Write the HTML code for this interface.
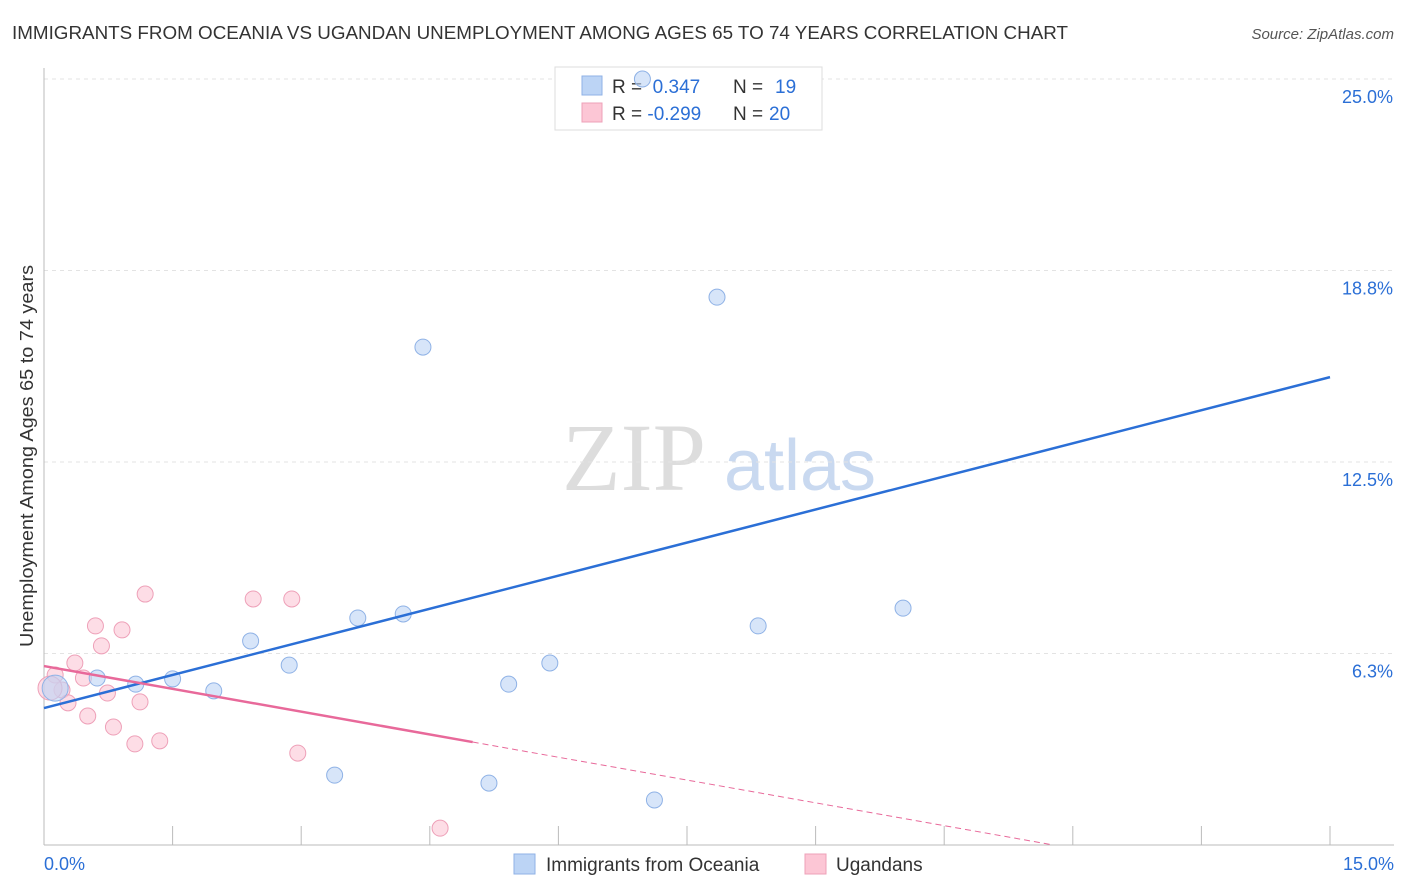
<!DOCTYPE html>
<html><head><meta charset="utf-8"><style>
body{margin:0;background:#fff;font-family:"Liberation Sans",sans-serif;}
svg{display:block}
</style></head><body>
<svg id="chart" width="1406" height="892">
<text x="12" y="39" font-size="18" fill="#333" textLength="1056" lengthAdjust="spacingAndGlyphs">IMMIGRANTS FROM OCEANIA VS UGANDAN UNEMPLOYMENT AMONG AGES 65 TO 74 YEARS CORRELATION CHART</text>
<text x="1394" y="39" font-size="15" fill="#555" font-style="italic" text-anchor="end">Source: ZipAtlas.com</text>
<text x="634" y="490" font-size="96" fill="#ddd" font-family="Liberation Serif" text-anchor="middle">ZIP</text>
<text x="800" y="490" font-size="72" fill="#c9d9f0" text-anchor="middle">atlas</text>
<text transform="translate(33,456) rotate(-90)" font-size="18" fill="#333" text-anchor="middle" textLength="382" lengthAdjust="spacingAndGlyphs">Unemployment Among Ages 65 to 74 years</text>
<g id="grid"></g><g id="axes"></g>
<g>
<rect x="555" y="67" width="267" height="63" fill="#fff" stroke="#ddd"/>
<rect x="582" y="76" width="20" height="19" fill="#bcd4f5" stroke="#8fb2e6"/>
<rect x="582" y="103" width="20" height="19" fill="#fcc6d5" stroke="#eea0b8"/>
<text x="612" y="93" font-size="19" fill="#333">R = <tspan fill="#2b6fd6">&#160;0.347</tspan><tspan x="733">N = </tspan><tspan fill="#2b6fd6" x="775">19</tspan></text>
<text x="612" y="120" font-size="19" fill="#333">R = <tspan fill="#2b6fd6">-0.299</tspan><tspan x="733">N = </tspan><tspan fill="#2b6fd6" x="769">20</tspan></text>
</g>
<g id="marks"></g>
<g>
<rect x="514" y="854" width="21" height="20" fill="#bcd4f5" stroke="#8fb2e6"/>
<text x="546" y="871" font-size="19" fill="#333">Immigrants from Oceania</text>
<rect x="805" y="854" width="21" height="20" fill="#fcc6d5" stroke="#eea0b8"/>
<text x="836" y="871" font-size="19" fill="#333">Ugandans</text>
</g>
</svg>
<script>
const blueX=[0.13,0.62,1.07,1.50,1.98,2.41,2.86,3.39,3.66,4.19,4.42,5.19,5.42,5.90,6.98,7.12,7.85,8.33,10.02];
const blueY=[5.12,5.45,5.25,5.42,5.03,6.66,5.87,2.28,7.41,7.54,16.25,2.02,5.25,5.94,25.0,1.47,17.88,7.15,7.73];
const pinkX=[0.13,0.21,0.28,0.36,0.46,0.51,0.60,0.67,0.74,0.81,0.91,1.06,1.12,1.18,1.35,2.44,2.89,2.96,4.62,0.07];
const pinkY=[5.55,5.06,4.64,5.94,5.45,4.21,7.15,6.50,4.96,3.85,7.02,3.30,4.67,8.19,3.40,8.03,8.03,3.00,0.55,5.12];
const yTicks=[6.3,12.5,18.8,25.0];
const yTickLabels=["6.3%","12.5%","18.8%","25.0%"];
const blueTrend=[4.47,15.27];
const pinkTrend=[5.84,-0.496];
const X=v=>44+v*(1330-44)/15, Y=v=>845-v*30.64;
const NS="http://www.w3.org/2000/svg";
function mk(p,t,a){const e=document.createElementNS(NS,t);for(const k in a)e.setAttribute(k,a[k]);document.getElementById(p).appendChild(e);return e;}
yTicks.forEach((t,i)=>{const yv=i==3?25:t==6.3?6.25:t==18.8?18.75:t;
const l=mk('grid','line',{x1:44,x2:1394,y1:Y(yv),y2:Y(yv),stroke:'#e3e3e3','stroke-dasharray':'4,4'});

const tx=mk('axes','text',{x:1393,y:Y(yv)+24,'font-size':18,fill:'#2b6fd6','text-anchor':'end'});tx.textContent=yTickLabels[i];
});
let ax=mk('axes','line',{x1:44,x2:44,y1:68,y2:845,stroke:'#bbb'});
ax=mk('axes','line',{x1:44,x2:1394,y1:845,y2:845,stroke:'#bbb'});
for(let i=1;i<=10;i++){const t=mk('axes','line',{x1:X(i*1.5),x2:X(i*1.5),y1:826,y2:845,stroke:'#bbb'});}
let tl=mk('axes','text',{x:44,y:870,'font-size':18,fill:'#2b6fd6'});tl.textContent="0.0%";
tl=mk('axes','text',{x:1394,y:870,'font-size':18,fill:'#2b6fd6','text-anchor':'end'});tl.textContent="15.0%";
pinkX.forEach((x,i)=>{const c=mk('marks','circle',{cx:X(x),cy:Y(pinkY[i]),r:i==19?12:8,fill:'#fcc6d5','fill-opacity':0.6,stroke:'#eea0b8'});});
blueX.forEach((x,i)=>{const c=mk('marks','circle',{cx:X(x),cy:Y(blueY[i]),r:i==0?13:8,fill:'#bcd4f5','fill-opacity':0.6,stroke:'#8fb2e6'});});
let l=mk('marks','line',{x1:X(0),y1:Y(blueTrend[0]),x2:X(15),y2:Y(blueTrend[1]),stroke:'#2b6fd6','stroke-width':2.5});
const pe=5, pz=-pinkTrend[0]/pinkTrend[1];
l=mk('marks','line',{x1:X(0),y1:Y(pinkTrend[0]),x2:X(pe),y2:Y(pinkTrend[0]+pinkTrend[1]*pe),stroke:'#e8699a','stroke-width':2.5});
l=mk('marks','line',{x1:X(pe),y1:Y(pinkTrend[0]+pinkTrend[1]*pe),x2:X(pz),y2:Y(0),stroke:'#e8699a','stroke-width':1,'stroke-dasharray':'6,4'});
</script>
</body></html>
